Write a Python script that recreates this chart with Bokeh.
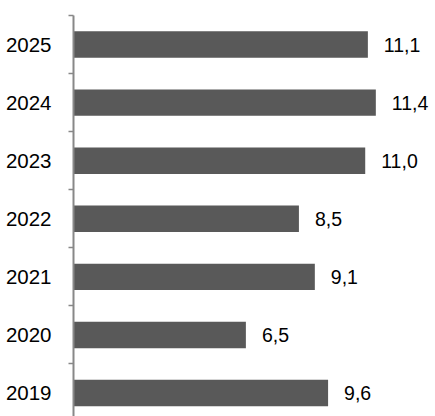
from bokeh.plotting import figure
from bokeh.models import Range1d, FixedTicker, ColumnDataSource
from bokeh.embed import file_html
from bokeh.resources import INLINE

years = ["2019", "2020", "2021", "2022", "2023", "2024", "2025"]
values = [9.6, 6.5, 9.1, 8.5, 11.0, 11.4, 11.1]
value_labels = ["9,6", "6,5", "9,1", "8,5", "11,0", "11,4", "11,1"]

pos = list(range(1, len(years) + 1))

src = ColumnDataSource(dict(y=pos, v=values, lab=value_labels))

p = figure(width=435, height=416, output_backend="svg", toolbar_location=None,
           x_range=Range1d(0, 13.65), y_range=Range1d(0.596, 7.5),
           x_axis_location=None, min_border_left=73, min_border_right=0,
           min_border_top=15, min_border_bottom=0)
p.outline_line_color = None
p.grid.visible = False
p.background_fill_color = "white"
p.border_fill_color = "white"

p.hbar(y="y", right="v", left=0, height=0.456, source=src,
       fill_color="#595959", line_color=None)

p.text(x="v", y="y", text="lab", source=src, x_offset=16,
       text_align="left", text_baseline="middle",
       text_font_size="19.5px", text_color="#000000",
       text_font={"value": "Liberation Sans"})

ax = p.yaxis[0]
ax.ticker = FixedTicker(ticks=pos, minor_ticks=[i + 0.5 for i in range(0, len(years) + 1)])
ax.major_label_overrides = {i: y for i, y in zip(pos, years)}
ax.major_tick_line_color = None
ax.major_tick_in = 0
ax.major_tick_out = 0
ax.minor_tick_in = 0
ax.minor_tick_out = 5
ax.minor_tick_line_color = "#888888"
ax.minor_tick_line_width = 1.5
ax.axis_line_color = "#888888"
ax.axis_line_width = 2
ax.major_label_standoff = 17
ax.major_label_text_font = "Liberation Sans"
ax.major_label_text_font_size = "20.5px"
ax.major_label_text_color = "#000000"

open("out.html", "w").write(file_html(p, INLINE))
